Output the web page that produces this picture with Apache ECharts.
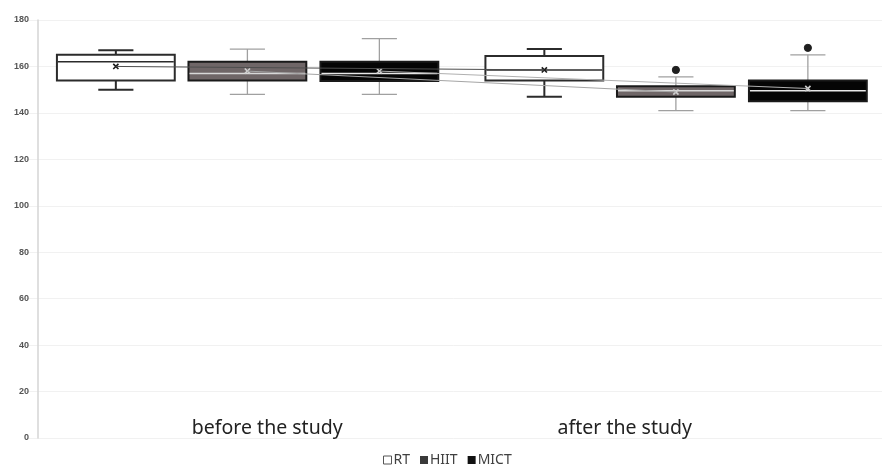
<!DOCTYPE html>
<html>
<head>
<meta charset="utf-8">
<script src="https://cdn.jsdelivr.net/npm/echarts@6/dist/echarts.min.js"></script>
<style>html,body{margin:0;padding:0;background:#fff}#c{width:882px;height:473px}</style>
</head>
<body>
<div id="c"></div>
<script>
// ---- data ----
const categories = ['before the study', 'after the study'];
const seriesNames = ['RT', 'HIIT', 'MICT'];
const yTicks = [0, 20, 40, 60, 80, 100, 120, 140, 160, 180];
// [min, Q1, median, Q3, max] per category
const rtBox   = [[150, 154, 162, 165, 167],   [147, 154, 158.5, 164.5, 167.5]];
const hiitBox = [[148, 154, 157, 162, 167.5], [141, 147, 149.5, 151.5, 155.5]];
const mictBox = [[148, 153.7, 157, 162, 172], [141, 145, 149.5, 154, 165]];
const rtMean   = [160, 158.5];
const hiitMean = [158, 149];
const mictMean = [158, 150.5];
const rtOutliers   = [];
const hiitOutliers = [[1, 158.5]];
const mictOutliers = [[1, 168]];

// ---- styles ----
const styles = {
  RT:   {fill: '#ffffff', stroke: '#2b2b2b', whisker: '#2b2b2b', wWidth: 2, median: '#2b2b2b', mean: '#1a1a1a', meanLine: '#4d4d4d', offset: -0.288},
  HIIT: {fill: '#6f6667', stroke: '#1a1a1a', whisker: '#a0a0a0', wWidth: 1.3, median: '#d8d8d8', mean: '#d0d0d0', meanLine: '#a5a5a5', offset: 0.019},
  MICT: {fill: '#050505', stroke: '#1a1a1a', whisker: '#a0a0a0', wWidth: 1.3, median: '#e8e8e8', mean: '#cfcfcf', meanLine: '#b0b0b0', offset: 0.327}
};
const BOX_FRAC = 0.275, CAP_FRAC = 0.082;

function boxSeries(name, boxes, means) {
  const st = styles[name];
  const data = boxes.map((b, i) => [i, b[0], b[1], b[2], b[3], b[4], means[i]]);
  return {
    name: name, type: 'custom', z: 2,
    itemStyle: {color: st.fill, borderColor: st.stroke},
    data: data,
    renderItem: function (params, api) {
      const ci = api.value(0);
      const band = api.size([1, 0])[0];
      const cx = api.coord([ci, 0])[0] + st.offset * band;
      const bw = BOX_FRAC * band, cw = CAP_FRAC * band;
      const y = v => api.coord([ci, v])[1];
      const yMin = y(api.value(1)), yQ1 = y(api.value(2)), yMed = y(api.value(3)),
            yQ3 = y(api.value(4)), yMax = y(api.value(5)), yMean = y(api.value(6));
      const lineSt = {stroke: st.whisker, lineWidth: st.wWidth};
      const ms = 2.6;
      return {
        type: 'group',
        children: [
          {type: 'line', shape: {x1: cx, y1: yMax, x2: cx, y2: yMin}, style: lineSt},
          {type: 'line', shape: {x1: cx - cw / 2, y1: yMax, x2: cx + cw / 2, y2: yMax}, style: lineSt},
          {type: 'line', shape: {x1: cx - cw / 2, y1: yMin, x2: cx + cw / 2, y2: yMin}, style: lineSt},
          {type: 'rect', shape: {x: cx - bw / 2, y: yQ3, width: bw, height: yQ1 - yQ3},
            style: {fill: st.fill, stroke: st.stroke, lineWidth: 2}},
          {type: 'line', shape: {x1: cx - bw / 2 + 1, y1: yMed, x2: cx + bw / 2 - 1, y2: yMed},
            style: {stroke: st.median, lineWidth: 1.5}},
          {type: 'line', shape: {x1: cx - ms, y1: yMean - ms, x2: cx + ms, y2: yMean + ms}, style: {stroke: st.mean, lineWidth: 1.6}},
          {type: 'line', shape: {x1: cx - ms, y1: yMean + ms, x2: cx + ms, y2: yMean - ms}, style: {stroke: st.mean, lineWidth: 1.6}}
        ]
      };
    }
  };
}

function meanLineSeries(name, means) {
  const st = styles[name];
  return {
    name: name + ' mean', type: 'custom', z: 5, silent: true,
    data: means.map((m, i) => [i, m]),
    renderItem: function (params, api) {
      const idx = params.dataIndexInside;
      if (idx === 0) return null;
      const band = api.size([1, 0])[0];
      const p0 = api.coord([api.value(0, idx - 1), api.value(1, idx - 1)]);
      const p1 = api.coord([api.value(0), api.value(1)]);
      return {type: 'line',
        shape: {x1: p0[0] + st.offset * band, y1: p0[1], x2: p1[0] + st.offset * band, y2: p1[1]},
        style: {stroke: st.meanLine, lineWidth: 1}};
    }
  };
}

function outlierSeries(name, pts) {
  const st = styles[name];
  return {
    name: name + ' outliers', type: 'custom', z: 6, silent: true,
    data: pts,
    renderItem: function (params, api) {
      const band = api.size([1, 0])[0];
      const p = api.coord([api.value(0), api.value(1)]);
      return {type: 'circle', shape: {cx: p[0] + st.offset * band, cy: p[1], r: 3.6},
        style: {fill: '#1f1f1f', stroke: '#1f1f1f'}};
    }
  };
}

const chart = echarts.init(document.getElementById('c'), null, {renderer: 'canvas'});
chart.setOption({
  animation: false,
  backgroundColor: '#ffffff',
  grid: {left: 25, right: 0, top: 20, bottom: 35},
  legend: {
    bottom: 1, left: 378, itemWidth: 8, itemHeight: 8, itemGap: 10,
    icon: 'rect',
    textStyle: {fontSize: 14, color: '#404040', fontFamily: 'Noto Sans', padding: [0, 0, 0, -3]},
    data: [
      {name: 'RT', itemStyle: {color: '#ffffff', borderColor: '#555555', borderWidth: 1}},
      {name: 'HIIT', itemStyle: {color: '#3a3a3a'}},
      {name: 'MICT', itemStyle: {color: '#111111'}}
    ]
  },
  xAxis: {
    type: 'category', data: categories,
    axisLine: {show: false}, axisTick: {show: false},
    axisLabel: {
      margin: -20, fontSize: 19.5, color: '#222222', fontFamily: 'Noto Sans',
      formatter: function (v, i) { return i === 0 ? '{a|' + v + '}' : '{b|' + v + '}'; },
      rich: {
        a: {fontSize: 19.5, color: '#222222', fontFamily: 'Noto Sans', padding: [0, 0, 0, 56]},
        b: {fontSize: 19.5, color: '#222222', fontFamily: 'Noto Sans', padding: [0, 86, 0, 0]}
      }
    },
    splitLine: {show: false}
  },
  yAxis: {
    type: 'value', min: yTicks[0], max: yTicks[yTicks.length - 1], interval: 20,
    offset: -13,
    axisLine: {show: true, lineStyle: {color: '#d4d4d4', width: 1.5}},
    axisTick: {show: false},
    axisLabel: {fontSize: 9, color: '#555555', margin: 9, fontWeight: 'bold'},
    splitLine: {lineStyle: {color: '#f1f1f1', width: 1}}
  },
  series: [
    boxSeries('RT', rtBox, rtMean),
    boxSeries('HIIT', hiitBox, hiitMean),
    boxSeries('MICT', mictBox, mictMean),
    meanLineSeries('RT', rtMean),
    meanLineSeries('HIIT', hiitMean),
    meanLineSeries('MICT', mictMean),
    outlierSeries('RT', rtOutliers),
    outlierSeries('HIIT', hiitOutliers),
    outlierSeries('MICT', mictOutliers)
  ]
});
</script>
</body>
</html>
